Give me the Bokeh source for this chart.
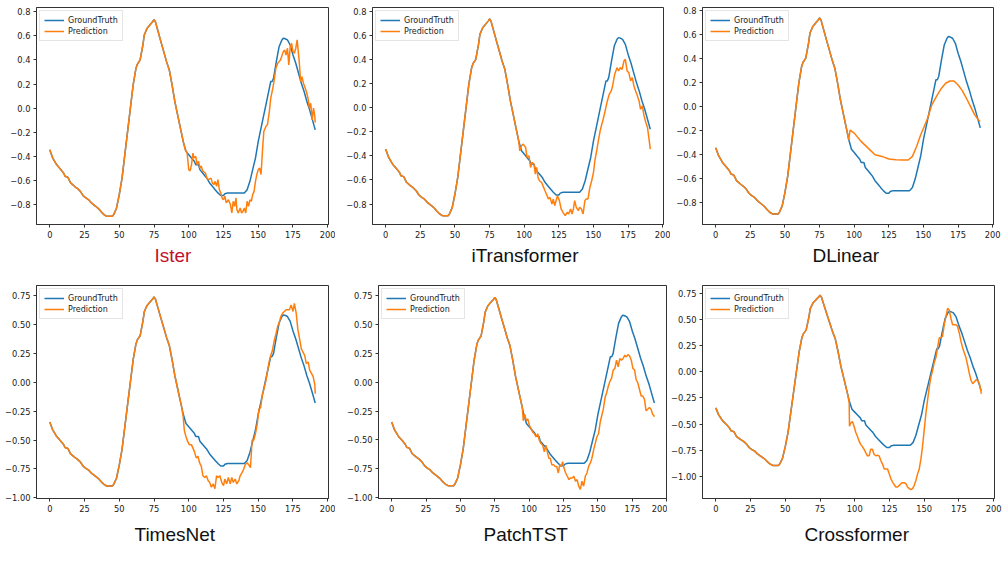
from bokeh.plotting import figure
from bokeh.layouts import column, row
from bokeh.models import Range1d, FixedTicker
from bokeh.embed import file_html
from bokeh.resources import INLINE

# ---------------- data ----------------
gt_x = [0, 2, 3, 5, 8, 10, 11, 13, 15, 18, 20, 22, 24, 26, 28, 30, 33, 35, 37, 39, 41, 45,
        46, 48, 50, 52, 54, 56, 58, 60, 62, 63, 65, 67, 68, 70, 72, 74, 75, 76, 78, 80, 82,
        84, 86, 88, 90, 92, 94, 95, 96, 97, 98, 100, 102, 104, 105, 107, 108, 110, 112, 113,
        115, 117, 119, 121, 123, 125, 126, 128, 135, 140, 142, 144, 146, 148, 150, 152, 154,
        156, 158, 159, 160, 161, 163, 165, 167, 168, 169, 171, 173, 175, 177, 179, 181, 183,
        185, 187, 189, 191]
gt_y = [-0.345, -0.41, -0.43, -0.47, -0.51, -0.54, -0.565, -0.573, -0.62, -0.65, -0.667, -0.69,
        -0.725, -0.745, -0.76, -0.786, -0.814, -0.833, -0.86, -0.883, -0.897, -0.897, -0.883,
        -0.83, -0.717, -0.58, -0.386, -0.193, 0.0, 0.193, 0.33, 0.364, 0.40, 0.524, 0.607,
        0.662, 0.69, 0.717, 0.735, 0.717, 0.634, 0.55, 0.469, 0.386, 0.317, 0.193, 0.055,
        -0.055, -0.166, -0.22, -0.276, -0.317, -0.358, -0.386, -0.414, -0.441, -0.469, -0.469,
        -0.51, -0.538, -0.566, -0.58, -0.62, -0.648, -0.676, -0.703, -0.725, -0.725, -0.71,
        -0.703, -0.703, -0.703, -0.676, -0.607, -0.51, -0.414, -0.276, -0.166, -0.055, 0.055,
        0.166, 0.221, 0.221, 0.248, 0.386, 0.51, 0.566, 0.58, 0.578, 0.566, 0.524, 0.441,
        0.372, 0.29, 0.207, 0.138, 0.055, -0.014, -0.097, -0.18]

ister_x = [96, 97.5, 98.8, 100, 101, 102, 103, 103.7, 105, 106, 107, 108, 109, 110, 112, 113,
           114, 116, 117, 118, 119, 120, 121, 122, 123, 124, 125, 126, 127, 128.5, 130, 131,
           132, 133, 134, 134.6, 135.6, 137, 138, 139, 140, 141, 142, 143, 144, 145, 146, 147,
           148, 149, 150, 151, 152, 153, 154, 155.6, 156.6, 158, 159, 160.5, 161.5, 162.7, 164,
           165, 166, 168, 169, 170, 171, 172, 173, 174, 175, 176, 177, 178, 179.5, 180.5, 181.5,
           182.5, 183.4, 184.6, 185.8, 186.8, 187.8, 188.8, 189.8, 190.7, 191]
ister_y = [-0.276, -0.345, -0.37, -0.51, -0.52, -0.469, -0.373, -0.414, -0.40, -0.469, -0.44,
           -0.497, -0.48, -0.52, -0.538, -0.58, -0.593, -0.58, -0.62, -0.634, -0.607, -0.648,
           -0.593, -0.676, -0.703, -0.745, -0.76, -0.73, -0.786, -0.76, -0.80, -0.869, -0.772,
           -0.814, -0.745, -0.84, -0.869, -0.828, -0.869, -0.855, -0.828, -0.869, -0.772,
           -0.814, -0.76, -0.772, -0.717, -0.69, -0.607, -0.55, -0.51, -0.497, -0.55, -0.359,
           -0.193, -0.15, -0.138, -0.028, 0.083, 0.166, 0.234, 0.331, 0.372, 0.386, 0.40, 0.469,
           0.483, 0.441, 0.497, 0.359, 0.51, 0.538, 0.469, 0.455, 0.497, 0.566, 0.386, 0.221,
           0.262, 0.207, 0.179, 0.138, 0.083, 0.0, 0.041, -0.097, 0.0, -0.069, -0.12]

itrans_x = [96, 96.8, 98, 99.3, 101, 102, 103.4, 104.6, 105.6, 107, 108, 109, 110, 111, 112.5,
            114, 115, 116, 117.4, 118.6, 120, 121, 122, 123, 124, 125.4, 126.6, 128, 129.6, 131,
            132, 133.5, 134.5, 135.5, 136.4, 137.6, 139, 140, 141.3, 142.5, 143.8, 144.7, 146,
            147.4, 148.7, 150, 151, 152.3, 153.5, 154.8, 156, 157, 158.4, 160, 161.4, 162.8,
            163.8, 165.3, 167, 168.2, 169.4, 170.7, 172, 173, 174.3, 175.5, 176.8, 178, 179.2,
            180.4, 181.7, 182.9, 184, 185.3, 186.5, 187.8, 189, 190.2, 191]
itrans_y = [-0.276, -0.359, -0.317, -0.303, -0.331, -0.414, -0.40, -0.497, -0.455, -0.469,
            -0.552, -0.497, -0.58, -0.607, -0.62, -0.662, -0.69, -0.717, -0.759, -0.745, -0.80,
            -0.759, -0.814, -0.772, -0.731, -0.772, -0.841, -0.869, -0.897, -0.869, -0.883,
            -0.841, -0.883, -0.841, -0.772, -0.828, -0.855, -0.828, -0.841, -0.883, -0.772,
            -0.759, -0.759, -0.662, -0.607, -0.538, -0.441, -0.359, -0.276, -0.193, -0.138,
            -0.097, -0.028, 0.055, 0.11, 0.138, 0.179, 0.276, 0.331, 0.303, 0.331, 0.317, 0.386,
            0.40, 0.303, 0.29, 0.221, 0.248, 0.179, 0.138, 0.097, 0.055, -0.014, 0.014, -0.069,
            -0.124, -0.166, -0.27, -0.345]

dlin_x = [96, 97, 100, 105, 110, 115, 120, 125, 130, 135, 139, 142, 145, 148, 150, 153, 156,
          160, 163, 166, 169, 172, 175, 178, 181, 184, 187, 190, 191]
dlin_y = [-0.28, -0.20, -0.224, -0.293, -0.349, -0.404, -0.418, -0.44, -0.446, -0.448, -0.448,
          -0.418, -0.335, -0.238, -0.183, -0.10, 0.011, 0.094, 0.15, 0.191, 0.21, 0.21, 0.177,
          0.13, 0.066, -0.003, -0.072, -0.119, -0.127]

times_x = [96, 96.8, 98, 99.3, 100.5, 102, 103, 104, 105.4, 106.6, 107.8, 109, 110.2, 111.5,
           112.7, 114, 115, 116.3, 117.6, 118.8, 120, 121, 122.4, 123.7, 125, 126, 127.3,
           128.5, 129.8, 131, 132, 133.4, 134.6, 136, 137, 138.3, 139.5, 140.7, 142, 143,
           144.4, 145.6, 146.8, 148, 149.3, 150.5, 151.7, 153, 154, 155.4, 156.6, 157.8, 159,
           160.2, 161.5, 162.7, 164, 165, 166.3, 167.6, 168.8, 170, 171.2, 172.4, 173.7, 175,
           176, 177.3, 178.5, 179.8, 181, 182.2, 183.4, 184.6, 185.9, 187, 188.3, 189.5, 190.7,
           191]
times_y = [-0.30, -0.416, -0.472, -0.514, -0.542, -0.542, -0.57, -0.598, -0.654, -0.64, -0.697,
           -0.725, -0.809, -0.823, -0.809, -0.851, -0.865, -0.907, -0.879, -0.921, -0.809,
           -0.823, -0.809, -0.865, -0.893, -0.837, -0.879, -0.823, -0.879, -0.823, -0.865,
           -0.837, -0.879, -0.851, -0.809, -0.781, -0.753, -0.711, -0.697, -0.711, -0.739,
           -0.50, -0.50, -0.444, -0.36, -0.233, -0.22, -0.107, -0.065, 0.006, 0.09, 0.174, 0.23,
           0.272, 0.357, 0.413, 0.483, 0.511, 0.567, 0.596, 0.61, 0.624, 0.624, 0.624, 0.666,
           0.61, 0.68, 0.596, 0.455, 0.371, 0.287, 0.258, 0.23, 0.16, 0.174, 0.104, 0.076, 0.048,
           -0.022, -0.10]

patch_x = [95.7, 96.7, 97.9, 99, 100.2, 101.4, 102.6, 103.8, 105, 106.2, 107.4, 108.6, 109.8,
           111, 112.2, 113.4, 114.3, 115.3, 116.5, 117.7, 118.9, 120, 121.2, 122.2, 123.4,
           124.3, 125.3, 126.5, 127.7, 128.9, 130, 131.3, 132.5, 133.7, 134.8, 136, 137.2,
           138.4, 139.6, 140.8, 142, 143.2, 144.4, 145.6, 146.8, 148, 149.2, 150.4, 151.6, 152.7,
           153.9, 155.1, 156.3, 157.5, 158.7, 159.9, 161.1, 162.3, 163.5, 164.7, 165.9, 167.1,
           168.3, 169.5, 170.6, 171.8, 173, 174.2, 175.4, 176.6, 177.8, 179, 180.2, 181.4, 182.6,
           183.8, 185, 186.2, 187.4, 188.6, 189.7, 190.7, 191]
patch_y = [-0.333, -0.277, -0.333, -0.319, -0.376, -0.404, -0.433, -0.447, -0.475, -0.447,
           -0.504, -0.532, -0.546, -0.603, -0.546, -0.617, -0.659, -0.659, -0.716, -0.716,
           -0.73, -0.73, -0.787, -0.716, -0.73, -0.688, -0.744, -0.787, -0.815, -0.844, -0.83,
           -0.83, -0.815, -0.858, -0.844, -0.901, -0.929, -0.858, -0.901, -0.815, -0.787, -0.73,
           -0.702, -0.659, -0.589, -0.532, -0.475, -0.447, -0.348, -0.291, -0.234, -0.135,
           -0.092, -0.036, 0.007, 0.035, 0.106, 0.12, 0.191, 0.134, 0.205, 0.191, 0.205, 0.234,
           0.219, 0.239, 0.227, 0.191, 0.12, 0.106, 0.021, -0.007, -0.063, -0.12, -0.12, -0.149,
           -0.248, -0.234, -0.22, -0.234, -0.277, -0.291, -0.30]

cross_x = [96, 96.2, 97.1, 98.3, 99.5, 100.7, 101.9, 103.1, 104.3, 105.5, 106.7, 107.9, 109.1,
           110.3, 111.5, 112.7, 113.9, 115.1, 116.3, 117.5, 118.8, 120, 121.2, 122.4, 123.6,
           124.8, 126, 127.2, 128.4, 129.6, 130.8, 132, 133.2, 134.4, 135.6, 136.8, 138, 139.2,
           140.4, 141.6, 142.8, 144, 145.2, 146.4, 147.6, 148.8, 150, 151.2, 152.4, 153.6, 154.8,
           156, 157.2, 158.4, 159.6, 160.8, 162, 163.2, 164.4, 165.6, 166.8, 168, 169.2, 170.4,
           171.6, 172.8, 174, 175.2, 176.4, 177.6, 178.8, 180, 181.3, 182.5, 183.7, 184.9, 186,
           187.3, 188.5, 189.7, 190.9, 191]
cross_y = [-0.30, -0.522, -0.491, -0.475, -0.522, -0.579, -0.617, -0.664, -0.695, -0.717,
           -0.742, -0.774, -0.805, -0.805, -0.742, -0.742, -0.789, -0.805, -0.799, -0.805,
           -0.852, -0.884, -0.931, -0.931, -0.931, -0.978, -1.025, -1.056, -1.082, -1.104,
           -1.104, -1.088, -1.072, -1.063, -1.063, -1.072, -1.104, -1.119, -1.129, -1.119,
           -1.088, -1.041, -0.978, -0.931, -0.837, -0.711, -0.554, -0.397, -0.271, -0.145,
           -0.051, 0.012, 0.09, 0.137, 0.232, 0.326, 0.326, 0.342, 0.452, 0.53, 0.609, 0.593,
           0.514, 0.452, 0.452, 0.452, 0.436, 0.373, 0.294, 0.232, 0.184, 0.137, 0.059, -0.02,
           -0.083, -0.114, -0.098, -0.076, -0.083, -0.114, -0.193, -0.21]

x_ticks = [0, 25, 50, 75, 100, 125, 150, 175, 200]
y_ticks_top = [-0.8, -0.6, -0.4, -0.2, 0.0, 0.2, 0.4, 0.6, 0.8]
y_labels_top = ["−0.8", "−0.6", "−0.4", "−0.2", "0.0", "0.2", "0.4", "0.6", "0.8"]
y_ticks_bot = [-1.0, -0.75, -0.5, -0.25, 0.0, 0.25, 0.5, 0.75]
y_labels_bot = ["−1.00", "−0.75", "−0.50", "−0.25", "0.00", "0.25", "0.50", "0.75"]

BLUE = "#1f77b4"
ORANGE = "#ff7f0e"

hist_x = [x for x in gt_x if x < 96]
hist_y = [y for x, y in zip(gt_x, gt_y) if x < 96]


def panel(name, px, py, yr, yt, yl, w, h, bl, br, bt, bb, toff, tstand, color="#111111"):
    p = figure(width=w, height=h, output_backend="svg", toolbar_location=None,
               x_range=Range1d(-9.55, 200.55), y_range=Range1d(*yr),
               title=name, title_location="below",
               min_border_left=bl, min_border_right=br, min_border_top=bt,
               min_border_bottom=bb)
    p.title.align = "left"
    p.title.offset = toff
    p.title.text_font = "Liberation Sans"
    p.title.text_font_size = "19px"
    p.title.text_font_style = "normal"
    p.title.text_color = color
    p.title.standoff = tstand
    p.xgrid.visible = False
    p.ygrid.visible = False
    p.outline_line_color = "#333333"
    p.outline_line_width = 1
    p.background_fill_color = "white"
    p.border_fill_color = "white"
    for ax in (p.xaxis, p.yaxis):
        ax.axis_line_color = "#333333"
        ax.major_tick_line_color = "#333333"
        ax.major_tick_in = 0
        ax.major_tick_out = 3
        ax.minor_tick_line_color = None
        ax.major_label_text_font = "DejaVu Sans"
        ax.major_label_text_font_size = "8.3px"
        ax.major_label_text_color = "#222222"
        ax.major_label_standoff = 3
    p.xaxis.ticker = FixedTicker(ticks=x_ticks)
    p.yaxis.ticker = FixedTicker(ticks=yt)
    p.yaxis.major_label_overrides = {t: l for t, l in zip(yt, yl)}
    p.line(gt_x, gt_y, line_color=BLUE, line_width=1.5, legend_label="GroundTruth")
    p.line(hist_x + px, hist_y + py, line_color=ORANGE, line_width=1.5,
           legend_label="Prediction")
    lg = p.legend[0]
    lg.location = "top_left"
    lg.margin = 3
    lg.padding = 4
    lg.spacing = 1
    lg.label_text_font = "DejaVu Sans"
    lg.label_text_font_size = "8px"
    lg.label_text_color = "#222222"
    lg.label_height = 10
    lg.label_standoff = 4
    lg.glyph_width = 20
    lg.glyph_height = 10
    lg.border_line_color = "#cccccc"
    lg.background_fill_alpha = 0.85
    return p


p1 = panel("Ister", ister_x, ister_y, (-0.965, 0.835), y_ticks_top, y_labels_top,
           335, 272, 36, 7, 7, 48, 118, 4, color="#c0122c")
p2 = panel("iTransformer", itrans_x, itrans_y, (-0.97, 0.83), y_ticks_top, y_labels_top,
           335, 272, 37, 7, 7, 48, 99, 4)
p3 = panel("DLinear", dlin_x, dlin_y, (-0.985, 0.822), y_ticks_top, y_labels_top,
           337, 272, 32, 14, 7, 47, 110, 4)
p4 = panel("TimesNet", times_x, times_y, (-1.005, 0.834), y_ticks_bot, y_labels_bot,
           335, 300, 36, 7, 8, 74, 98, 15)
p5 = panel("PatchTST", patch_x, patch_y, (-1.008, 0.838), y_ticks_bot, y_labels_bot,
           332, 300, 43, 0, 9, 74, 105, 15)
p6 = panel("Crossformer", cross_x, cross_y, (-1.214, 0.828), y_ticks_bot, y_labels_bot,
           340, 300, 35, 13, 13, 70, 102, 14)

layout = column(row(p1, p2, p3, spacing=0), row(p4, p5, p6, spacing=0), spacing=0)

open("out.html", "w").write(file_html(layout, INLINE))
